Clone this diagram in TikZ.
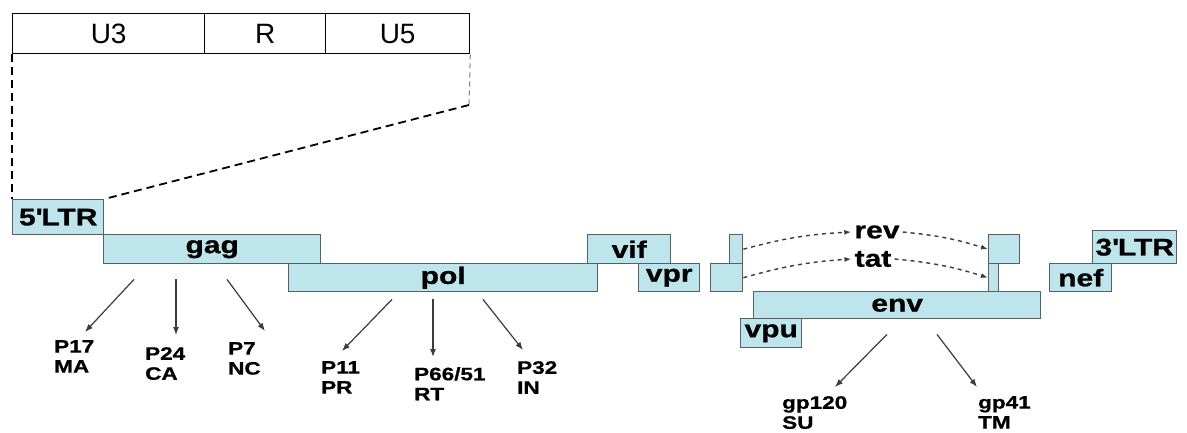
\documentclass[tikz,border=0pt]{standalone}
\usepackage{fontspec}
\setmainfont{Liberation Sans}
\newfontfamily\genefont{Liberation Sans}[FakeStretch=1.25,BoldFeatures={FakeBold=0.8}]
\usetikzlibrary{arrows.meta,calc,positioning}
\definecolor{genefill}{RGB}{190,229,236}
\definecolor{geneline}{RGB}{85,95,100}
\definecolor{arrowgray}{RGB}{60,60,60}

\begin{document}
\begin{tikzpicture}[x=1pt,y=-1pt,
    gene/.style={draw=geneline,fill=genefill,line width=1.4pt,inner sep=0,anchor=north west,
      font=\genefont\bfseries\fontsize{24}{28}\selectfont},
    ltrpart/.style={draw=black,line width=1.3pt,inner sep=0,anchor=north west,minimum height=40,
      font=\fontsize{28}{32}\selectfont},
    protein/.style={inner sep=0,anchor=north west,align=left,
      font=\genefont\bfseries\fontsize{18}{20}\selectfont},
    splicelabel/.style={inner sep=3pt,font=\genefont\bfseries\fontsize{24}{28}\selectfont},
    zoomline/.style={line width=1.8pt,dash pattern=on 8pt off 5pt},
    arr/.style={draw=arrowgray,line width=1.2pt,-{Latex[length=8pt,width=6pt]}},
    splice/.style={draw=arrowgray,line width=1.4pt,dash pattern=on 4pt off 4pt,-{Latex[length=7pt,width=5pt]}}]
  \useasboundingbox[fill=white] (0,0) rectangle (1187,432);
  % LTR enlarged: U3 R U5
  \node[ltrpart,minimum width=192] (u3) at (12,13) {U3};
  \node[ltrpart,minimum width=121] (r) at (204,13) {R};
  \node[ltrpart,minimum width=144] (u5) at (325,13) {U5};
  % genes
  \node[gene,minimum width=91,minimum height=35] (ltr5) at (12,199) {5\textquotesingle LTR};
  \node[gene,minimum width=217,minimum height=29] (gag) at (103,234) {gag};
  \node[gene,minimum width=309,minimum height=28] (pol) at (288,263) {pol};
  \node[gene,minimum width=83,minimum height=29] (vif) at (587,234) {vif};
  \node[gene,minimum width=61,minimum height=28] (vpr) at (638,263) {vpr};
  \node[gene,minimum width=13,minimum height=29] (revl) at (729,234) {};
  \node[gene,minimum width=32,minimum height=28] (tatl) at (710,263) {};
  \node[gene,minimum width=287,minimum height=27] (env) at (753,291) {env};
  \node[gene,minimum width=61,minimum height=29] (vpu) at (740,318) {vpu};
  \node[gene,minimum width=31,minimum height=29] (revr) at (988,234) {};
  \node[gene,minimum width=10,minimum height=28] (tatr) at (988,263) {};
  \node[gene,minimum width=62,minimum height=28] (nef) at (1049,263) {nef};
  \node[gene,minimum width=84,minimum height=33] (ltr3) at (1092,230) {3\textquotesingle LTR};
  % zoom lines down to the 5' LTR
  \coordinate (kink) at (469,105);
  \draw[zoomline] (u3.south west) -- (ltr5.north west);
  \draw[gray,line width=1pt,dash pattern=on 5pt off 4pt] (u5.south east) -- (kink);
  \draw[zoomline] (kink) -- (ltr5.north east);
  % spliced rev and tat
  \node[splicelabel] (rev) at (877,232) {rev};
  \node[splicelabel] (tat) at (873,259) {tat};
  \draw[splice] (revl.east) to[bend left=6] (rev.west);
  \draw[splice] (rev.east) to[bend left=6] (revr.west);
  \draw[splice] (tatl.east) to[bend left=6] (tat.west);
  \draw[splice] (tat.east) to[bend left=6] (tatr.west);
  % proteins
  \node[protein] (p17) at (54,340) {P17\\MA};
  \node[protein] (p24) at (145,347) {P24\\CA};
  \node[protein] (p7) at (228,342) {P7\\NC};
  \node[protein] (p11) at (321,361) {P11\\PR};
  \node[protein] (p66) at (414,367) {P66/51\\RT};
  \node[protein] (p32) at (517,361) {P32\\IN};
  \node[protein] (gp120) at (782,396) {gp120\\SU};
  \node[protein] (gp41) at (978,396) {gp41\\TM};
  \draw[arr] ([xshift=31pt,yshift=-15pt]gag.south west) -- ([xshift=31pt,yshift=8pt]p17.north west);
  \draw[arr] ([xshift=73pt,yshift=-15pt]gag.south west) -- ([xshift=31pt,yshift=12pt]p24.north west);
  \draw[arr] ([xshift=124pt,yshift=-15pt]gag.south west) -- ([xshift=37pt,yshift=11pt]p7.north west);
  \draw[arr] ([xshift=104pt,yshift=-7pt]pol.south west) -- ([xshift=21pt,yshift=10pt]p11.north west);
  \draw[arr] ([xshift=145pt,yshift=-7pt]pol.south west) -- ([xshift=19pt,yshift=10pt]p66.north west);
  \draw[arr] ([xshift=195pt,yshift=-7pt]pol.south west) -- ([xshift=6pt,yshift=11pt]p32.north west);
  \draw[arr] ([xshift=134pt,yshift=-15pt]env.south west) -- ([xshift=53pt,yshift=9pt]gp120.north west);
  \draw[arr] ([xshift=184pt,yshift=-15pt]env.south west) -- ([xshift=-1pt,yshift=9pt]gp41.north west);
\end{tikzpicture}
\end{document}
